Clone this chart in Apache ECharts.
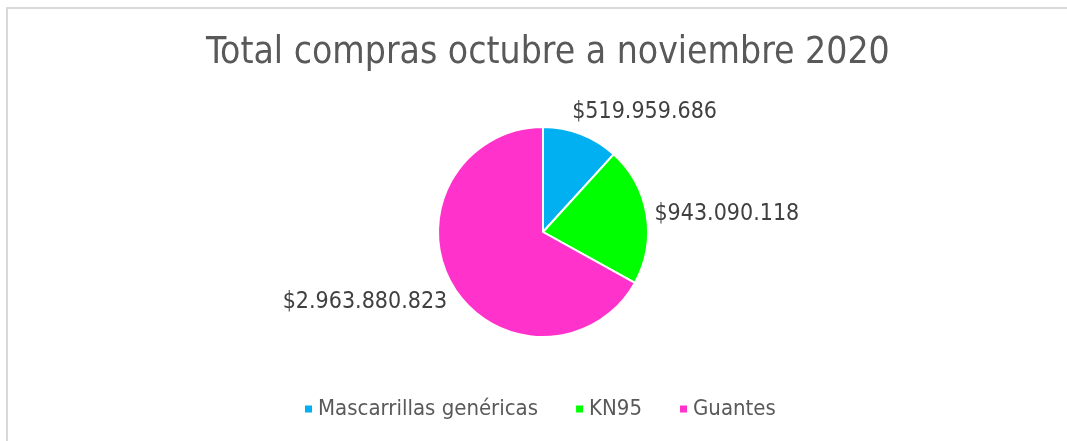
<!DOCTYPE html>
<html>
<head>
<meta charset="utf-8">
<script src="https://cdn.jsdelivr.net/npm/echarts@6/dist/echarts.min.js"></script>
<style>
  html, body { margin: 0; padding: 0; background: #fff; }
  #chart { width: 1067px; height: 441px; }
</style>
</head>
<body>
<div id="chart"></div>
<script>
// datos del gráfico
var categorias = ['Mascarrillas genéricas', 'KN95', 'Guantes'];
var valores = [519959686, 943090118, 2963880823];
var colores = ['#00b0f0', '#00ff00', '#ff33cc'];

var fuente = '"DejaVu Sans Condensed", "DejaVu Sans", sans-serif';

// ajuste fino de las etiquetas (como las pone Excel)
var desplazamientos = [[-18, -11], [-9, 1], [10, 11]];

// formato $519.959.686
function formatoPesos(v) {
  return '$' + String(v).replace(/\B(?=(\d{3})+(?!\d))/g, '.');
}

var myChart = echarts.init(document.getElementById('chart'));
myChart.setOption({
  animation: false,
  title: {
    text: 'Total compras octubre a noviembre 2020',
    left: 201,
    top: 30,
    textStyle: {
      fontFamily: fuente,
      fontSize: 37,
      fontWeight: 'normal',
      color: '#595959'
    }
  },
  legend: {
    top: 393,
    left: 298,
    itemWidth: 9,
    itemHeight: 9,
    itemGap: 36,
    icon: 'rect',
    data: categorias,
    textStyle: {
      fontFamily: fuente,
      fontSize: 22,
      color: '#595959'
    }
  },
  graphic: [{
    type: 'rect',
    shape: { x: 7, y: 8, width: 1080, height: 460 },
    style: { fill: null, stroke: '#d9d9d9', lineWidth: 2 }
  }],
  series: [{
    type: 'pie',
    center: [543, 232],
    radius: 105,
    startAngle: 90,
    clockwise: true,
    data: categorias.map(function (c, i) {
      return {
        name: c,
        value: valores[i],
        itemStyle: { color: colores[i] },
        label: { offset: desplazamientos[i] }
      };
    }),
    itemStyle: { borderColor: '#fff', borderWidth: 2 },
    label: {
      show: true,
      position: 'outside',
      formatter: function (p) { return formatoPesos(p.value); },
      fontFamily: fuente,
      fontSize: 23,
      color: '#404040'
    },
    labelLine: { show: false, length: 12, length2: 0 }
  }]
});
</script>
</body>
</html>
